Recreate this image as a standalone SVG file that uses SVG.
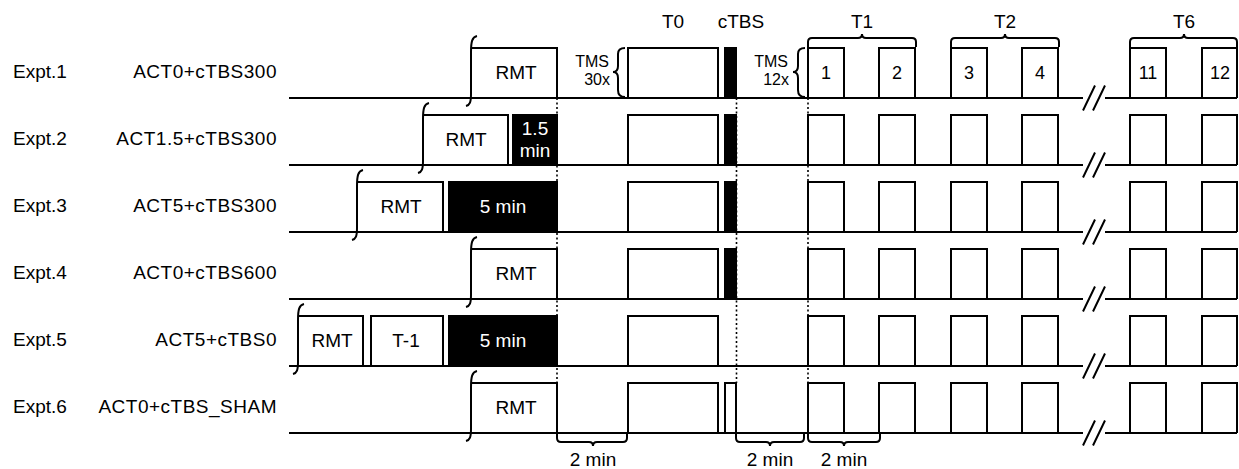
<svg xmlns="http://www.w3.org/2000/svg" width="1239" height="469" viewBox="0 0 1239 469">
<style>
.ln{stroke:#000;stroke-width:2;fill:none}
.bl{fill:#000;stroke:#000;stroke-width:2}
.dot{stroke:#000;stroke-width:1.6;stroke-dasharray:2 2.5;fill:none}
text{font-family:"Liberation Sans",Arial,sans-serif;fill:#000;font-size:19px}
.e{text-anchor:end}
.m{text-anchor:middle}
.n{font-size:18px}
.s{font-size:16px}
.w{fill:#fff}
.lab{letter-spacing:0.5px}
</style>
<rect width="1239" height="469" fill="#fff"/>
<g id="connectors">
<path class="dot" d="M557,98 V383 M736.5,98 V383 M808,98 V383"/>
</g>
<g id="top-labels">
<text class="m" x="673" y="28">T0</text>
<text class="m" x="741" y="28">cTBS</text>
<text class="m" x="862" y="28">T1</text>
<text class="m" x="1005" y="28">T2</text>
<text class="m" x="1184" y="28">T6</text>
<path class="ln" d="M808,47 V42 Q808,38 812,38 H858 Q862,38 862,34 Q862,38 866,38 H912 Q916,38 916,42 V47"/>
<path class="ln" d="M951,47 V42 Q951,38 955,38 H1001 Q1005,38 1005,34 Q1005,38 1009,38 H1055 Q1059,38 1059,42 V47"/>
<path class="ln" d="M1130,47 V42 Q1130,38 1134,38 H1180 Q1184,38 1184,34 Q1184,38 1188,38 H1233 Q1237,38 1237,42 V47"/>
</g>
<g id="row1">
<text x="13" y="78">Expt.1</text>
<text class="e lab" x="277" y="78">ACT0+cTBS300</text>
<path class="ln" d="M289,98 H1083 M1105,98 H1237 M1083,110.5 L1095,85.5 M1093,110.5 L1105,85.5"/>
<path class="ln" d="M477,36 C472,37 471,42 471,52 L471,94 C471,102 470,105 466,106"/>
<path class="ln" d="M471,48 H557 V98"/>
<text class="m" x="516" y="79">RMT</text>
<text class="e s" x="609" y="67">TMS</text>
<text class="e s" x="610" y="85">30x</text>
<path class="ln" d="M625,48 Q618,48 618,54 V66 Q618,72 613,72 Q618,72 618,78 V90 Q618,97 625,97"/>
<path class="ln" d="M628,98 V48 H718 V98"/>
<rect class="bl" x="725" y="48" width="11" height="50"/>
<text class="e s" x="788" y="67">TMS</text>
<text class="e s" x="789" y="85">12x</text>
<path class="ln" d="M805,48 Q798,48 798,54 V66 Q798,72 793,72 Q798,72 798,78 V90 Q798,97 805,97"/>
<path class="ln" d="M808,98 V48 H844 V98 M879,98 V48 H915 V98 M951,98 V48 H987 V98 M1022,98 V48 H1058 V98 M1130,98 V48 H1166 V98 M1202,98 V48 H1237 V98"/>
<text class="m n" x="826" y="79">1</text>
<text class="m n" x="897" y="79">2</text>
<text class="m n" x="969" y="79">3</text>
<text class="m n" x="1040" y="79">4</text>
<text class="m n" x="1148" y="79">11</text>
<text class="m n" x="1220" y="79">12</text>
</g>
<g id="row2">
<text x="13" y="145">Expt.2</text>
<text class="e lab" x="277" y="145">ACT1.5+cTBS300</text>
<path class="ln" d="M289,165 H1083 M1105,165 H1237 M1083,177.5 L1095,152.5 M1093,177.5 L1105,152.5"/>
<path class="ln" d="M429,103 C424,104 423,109 423,119 L423,161 C423,169 422,172 418,173"/>
<path class="ln" d="M423,115 H508 V165"/>
<text class="m" x="466" y="146">RMT</text>
<rect class="bl" x="513" y="115" width="44" height="50"/>
<text class="m w" x="535" y="135">1.5</text>
<text class="m w" x="535" y="157">min</text>
<path class="ln" d="M628,165 V115 H718 V165"/>
<rect class="bl" x="725" y="115" width="11" height="50"/>
<path class="ln" d="M808,165 V115 H844 V165 M879,165 V115 H915 V165 M951,165 V115 H987 V165 M1022,165 V115 H1058 V165 M1130,165 V115 H1166 V165 M1202,165 V115 H1237 V165"/>
</g>
<g id="row3">
<text x="13" y="212">Expt.3</text>
<text class="e lab" x="277" y="212">ACT5+cTBS300</text>
<path class="ln" d="M289,232 H1083 M1105,232 H1237 M1083,244.5 L1095,219.5 M1093,244.5 L1105,219.5"/>
<path class="ln" d="M363,170 C358,171 357,176 357,186 L357,228 C357,236 356,239 352,240"/>
<path class="ln" d="M357,182 H443 V232"/>
<text class="m" x="401" y="213">RMT</text>
<rect class="bl" x="449" y="182" width="108" height="50"/>
<text class="m w" x="503" y="213">5 min</text>
<path class="ln" d="M628,232 V182 H718 V232"/>
<rect class="bl" x="725" y="182" width="11" height="50"/>
<path class="ln" d="M808,232 V182 H844 V232 M879,232 V182 H915 V232 M951,232 V182 H987 V232 M1022,232 V182 H1058 V232 M1130,232 V182 H1166 V232 M1202,232 V182 H1237 V232"/>
</g>
<g id="row4">
<text x="13" y="279">Expt.4</text>
<text class="e lab" x="277" y="279">ACT0+cTBS600</text>
<path class="ln" d="M289,299 H1083 M1105,299 H1237 M1083,311.5 L1095,286.5 M1093,311.5 L1105,286.5"/>
<path class="ln" d="M477,237 C472,238 471,243 471,253 L471,295 C471,303 470,306 466,307"/>
<path class="ln" d="M471,249 H557 V299"/>
<text class="m" x="516" y="280">RMT</text>
<path class="ln" d="M628,299 V249 H718 V299"/>
<rect class="bl" x="725" y="249" width="11" height="50"/>
<path class="ln" d="M808,299 V249 H844 V299 M879,299 V249 H915 V299 M951,299 V249 H987 V299 M1022,299 V249 H1058 V299 M1130,299 V249 H1166 V299 M1202,299 V249 H1237 V299"/>
</g>
<g id="row5">
<text x="13" y="346">Expt.5</text>
<text class="e lab" x="277" y="346">ACT5+cTBS0</text>
<path class="ln" d="M289,366 H1083 M1105,366 H1237 M1083,378.5 L1095,353.5 M1093,378.5 L1105,353.5"/>
<path class="ln" d="M304,304 C299,305 298,310 298,320 L298,362 C298,370 297,373 293,374"/>
<path class="ln" d="M298,316 H363 V366"/>
<text class="m" x="332" y="347">RMT</text>
<path class="ln" d="M371,366 V316 H443 V366"/>
<text class="m" x="406" y="347">T-1</text>
<rect class="bl" x="449" y="316" width="108" height="50"/>
<text class="m w" x="503" y="347">5 min</text>
<path class="ln" d="M628,366 V316 H718 V366"/>
<path class="ln" d="M808,366 V316 H844 V366 M879,366 V316 H915 V366 M951,366 V316 H987 V366 M1022,366 V316 H1058 V366 M1130,366 V316 H1166 V366 M1202,366 V316 H1237 V366"/>
</g>
<g id="row6">
<text x="13" y="413">Expt.6</text>
<text class="e lab" x="277" y="413">ACT0+cTBS_SHAM</text>
<path class="ln" d="M289,433 H1083 M1105,433 H1237 M1083,445.5 L1095,420.5 M1093,445.5 L1105,420.5"/>
<path class="ln" d="M477,371 C472,372 471,377 471,387 L471,429 C471,437 470,440 466,441"/>
<path class="ln" d="M471,383 H557 V433"/>
<text class="m" x="516" y="414">RMT</text>
<path class="ln" d="M628,433 V383 H718 V433"/>
<path class="ln" d="M725,433 V383 H736 V433"/>
<path class="ln" d="M808,433 V383 H844 V433 M879,433 V383 H915 V433 M951,433 V383 H987 V433 M1022,433 V383 H1058 V433 M1130,433 V383 H1166 V433 M1202,433 V383 H1237 V433"/>
</g>
<g id="bottom-braces">
<path class="ln" d="M557,433 V438 Q557,442 561,442 H589 Q593,442 593,446 Q593,442 597,442 H623 Q627,442 627,438 V433"/>
<path class="ln" d="M736,433 V438 Q736,442 740,442 H766 Q770,442 770,446 Q770,442 774,442 H800 Q804,442 804,438 V433"/>
<path class="ln" d="M808,433 V438 Q808,442 812,442 H840 Q844,442 844,446 Q844,442 848,442 H876 Q880,442 880,438 V433"/>
<text class="m" x="593" y="466">2 min</text>
<text class="m" x="770" y="466">2 min</text>
<text class="m" x="844" y="466">2 min</text>
</g>
</svg>
